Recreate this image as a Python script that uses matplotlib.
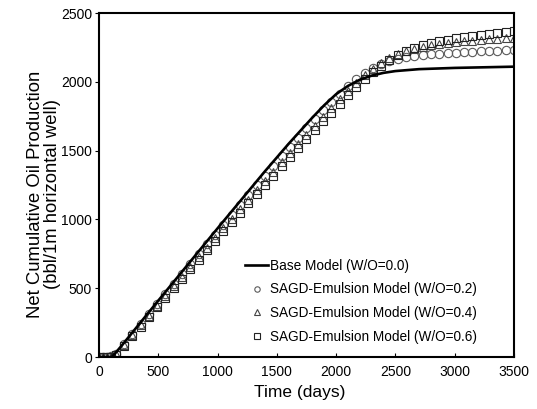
import matplotlib
matplotlib.use("Agg")
import matplotlib.pyplot as plt

# 기본 폰트 (Arial 계열)
plt.rcParams["font.family"] = ["Liberation Sans", "DejaVu Sans"]

# ---------------- 데이터 ----------------
# Base Model (W/O=0.0) 곡선
base_days = [0, 110, 200, 500, 1000, 1400, 1600, 1800, 1900, 2000, 2100,
             2200, 2300, 2400, 2500, 2700, 3000, 3500]
base_oil = [0, 0, 92, 410, 935, 1350, 1550, 1740, 1830, 1910, 1970,
            2015, 2045, 2065, 2078, 2092, 2101, 2110]

# SAGD-Emulsion 모델 마커 시점
marker_days = [0, 35, 70, 105, 140, 210, 280, 350, 420, 490, 560, 630, 700,
               770, 840, 910, 980, 1050, 1120, 1190, 1260, 1330, 1400, 1470,
               1540, 1610, 1680, 1750, 1820, 1890, 1960, 2030, 2100, 2170,
               2240, 2310, 2380, 2450, 2520, 2590, 2660, 2730, 2800, 2870,
               2940, 3010, 3080, 3150, 3220, 3290, 3360, 3430, 3500]

# W/O=0.2
oil_wo02 = [0, 0, 0, 5, 25, 95, 168, 240, 312, 385, 457, 530, 602, 674, 746,
            818, 890, 962, 1034, 1105, 1176, 1247, 1318, 1388, 1458, 1527,
            1595, 1662, 1728, 1792, 1854, 1914, 1970, 2022, 2066, 2102, 2130,
            2150, 2165, 2177, 2186, 2193, 2199, 2204, 2208, 2212, 2215, 2218,
            2221, 2224, 2227, 2229, 2231]

# W/O=0.4
oil_wo04 = [0, 0, 0, 3, 20, 88, 160, 230, 300, 371, 442, 513, 584, 654, 724,
            794, 864, 934, 1004, 1073, 1142, 1211, 1280, 1348, 1416, 1483,
            1550, 1616, 1682, 1747, 1811, 1874, 1935, 1993, 2047, 2095, 2137,
            2172, 2200, 2222, 2240, 2254, 2265, 2274, 2282, 2288, 2294, 2299,
            2304, 2308, 2312, 2315, 2318]

# W/O=0.6
oil_wo06 = [0, 0, 0, 2, 15, 80, 150, 220, 290, 360, 430, 499, 568, 637, 706,
            775, 844, 913, 981, 1049, 1117, 1185, 1252, 1319, 1386, 1452,
            1518, 1583, 1648, 1712, 1776, 1840, 1902, 1962, 2018, 2070, 2117,
            2158, 2193, 2222, 2246, 2265, 2281, 2294, 2305, 2315, 2324, 2332,
            2340, 2347, 2354, 2361, 2367]

x_ticks = [0, 500, 1000, 1500, 2000, 2500, 3000, 3500]
y_ticks = [0, 500, 1000, 1500, 2000, 2500]

# ---------------- 그림 ----------------
fig = plt.figure(figsize=(5.37, 4.09), dpi=100)
ax = fig.add_axes([0.1844, 0.1271, 0.7726, 0.8411])

ax.plot(base_days, base_oil, color="black", lw=1.9,
        label="Base Model (W/O=0.0)", zorder=3)
ax.plot(marker_days, oil_wo02, ls="none", marker="o", ms=6, mfc="none",
        mec="#5a5a5a", mew=0.8, label="SAGD-Emulsion Model (W/O=0.2)")
ax.plot(marker_days, oil_wo04, ls="none", marker="^", ms=6, mfc="none",
        mec="#444444", mew=0.8, label="SAGD-Emulsion Model (W/O=0.4)")
ax.plot(marker_days, oil_wo06, ls="none", marker="s", ms=6, mfc="none",
        mec="#222222", mew=0.8, label="SAGD-Emulsion Model (W/O=0.6)")

ax.set_xlim(0, 3500)
ax.set_ylim(0, 2500)
ax.set_xticks(x_ticks)
ax.set_yticks(y_ticks)

for s in ax.spines.values():
    s.set_linewidth(1.5)

ax.tick_params(axis="x", direction="in", length=3, width=0.8,
               labelsize=10, pad=6)
ax.tick_params(axis="y", direction="out", length=3, width=0.8,
               labelsize=10, pad=2)

# 축 제목
fig.text(300 / 537, 1 - 393 / 409, "Time (days)", fontsize=12.5,
         ha="center", va="center")
fig.text(44 / 537, 1 - 194 / 409,
         "Net Cumulative Oil Production\n(bbl/1m horizontal well)",
         fontsize=13.3, rotation=90, ha="center", va="center",
         multialignment="center", linespacing=0.95)

ax.legend(loc="lower left", bbox_to_anchor=(0.352, 0.038), frameon=False,
          fontsize=9.8, handlelength=1.7, handletextpad=0.15,
          labelspacing=0.72, markerscale=0.65, borderpad=0,
          borderaxespad=0)

fig.savefig("out.png", dpi=100)
